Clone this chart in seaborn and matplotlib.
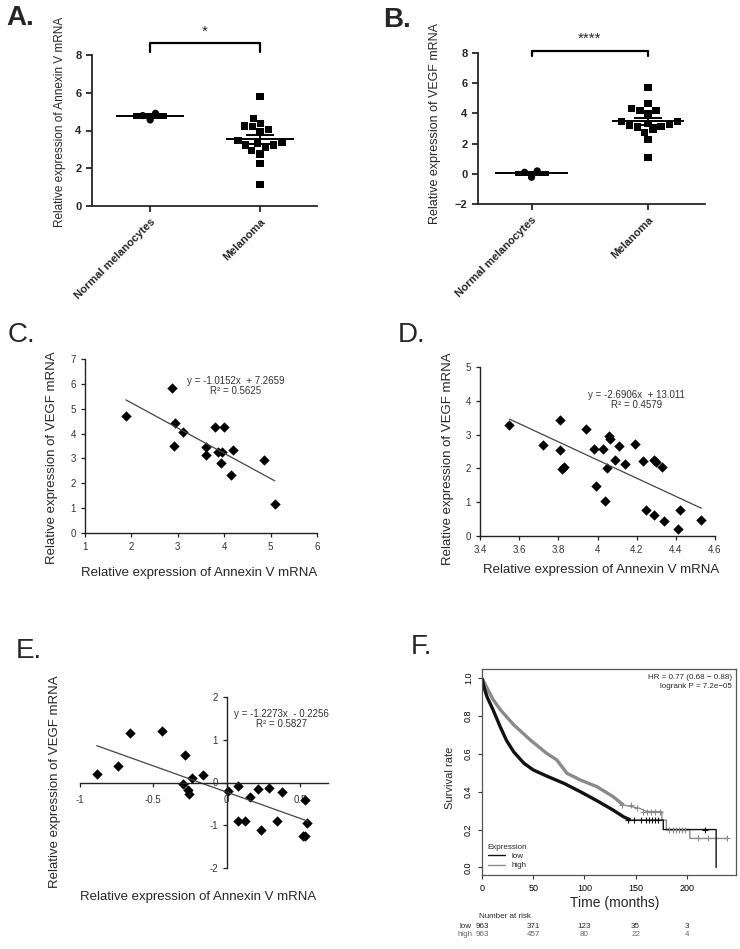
import numpy as np
import pandas as pd
import matplotlib
matplotlib.use("Agg")
import matplotlib.pyplot as plt
import matplotlib.transforms as mtrans
from matplotlib.lines import Line2D
import seaborn as sns

# ---- data ----
groups = ["Normal melanocytes", "Melanoma"]
annexin_normal = [4.91, 4.56, 4.79]
annexin_melanoma = [5.80, 4.65, 4.38, 4.20, 4.06, 3.94, 4.24, 3.37, 3.23, 3.11,
                    3.32, 3.45, 3.23, 2.76, 2.92, 2.26, 1.13]
vegf_normal = [0.19, -0.23, 0.10]
vegf_melanoma = [5.74, 4.64, 4.35, 4.19, 4.19, 3.97, 3.44, 3.24, 3.13, 3.46,
                 3.10, 3.22, 3.35, 2.76, 2.91, 2.25, 1.10]

c_annexin = [1.88, 2.87, 2.94, 2.92, 3.11, 3.60, 3.61, 3.81, 3.86, 3.99,
             3.96, 3.94, 4.14, 4.18, 4.85, 5.09]
c_vegf = [4.71, 5.82, 4.44, 3.51, 4.08, 3.12, 3.44, 4.28, 3.27, 4.28,
          3.27, 2.81, 2.32, 3.35, 2.95, 1.16]
c_fit = (-1.0152, 7.2659)

d_annexin = [3.55, 3.72, 3.81, 3.81, 3.82, 3.83, 3.94, 3.98, 3.99, 4.03,
             4.04, 4.05, 4.06, 4.065, 4.09, 4.11, 4.14, 4.19, 4.23, 4.25,
             4.29, 4.29, 4.30, 4.33, 4.34, 4.41, 4.42, 4.53]
d_vegf = [3.27, 2.68, 3.42, 2.55, 1.99, 2.04, 3.18, 2.57, 1.47, 2.57,
          1.05, 2.00, 2.95, 2.88, 2.24, 2.65, 2.12, 2.73, 2.23, 0.76,
          0.63, 2.26, 2.19, 2.04, 0.44, 0.22, 0.78, 0.47]
d_fit = (-2.6906, 13.011)

e_annexin = [-0.886, -0.74, -0.66, -0.44, -0.284, -0.30, -0.266, -0.255, -0.24, -0.164,
             0.007, 0.08, 0.075, 0.125, 0.16, 0.21, 0.234, 0.29, 0.345, 0.375,
             0.53, 0.52, 0.534, 0.55]
e_vegf = [0.19, 0.39, 1.16, 1.20, 0.64, -0.04, -0.18, -0.27, 0.11, 0.17,
          -0.19, -0.09, -0.90, -0.90, -0.34, -0.16, -1.11, -0.12, -0.90, -0.23,
          -0.41, -1.25, -1.25, -0.94]
e_fit = (-1.2273, -0.2256)

km_low_t = [0, 2, 5, 11, 18, 24, 31, 41, 50, 63, 80, 96, 112, 128, 138, 145, 177, 177, 228.6, 228.6]
km_low_s = [1.0, 0.95, 0.90, 0.83, 0.74, 0.67, 0.61, 0.55, 0.515, 0.483, 0.444, 0.40, 0.353,
            0.303, 0.268, 0.25, 0.25, 0.20, 0.20, 0.0]
km_high_t = [0, 5, 11, 18, 31, 47, 63, 73, 83, 96, 112, 128, 138, 154, 161, 175.6, 175.6, 180, 180,
             203, 203, 239]
km_high_s = [1.0, 0.947, 0.885, 0.832, 0.753, 0.674, 0.603, 0.568, 0.497, 0.462, 0.427, 0.374,
             0.33, 0.312, 0.295, 0.295, 0.25, 0.25, 0.20, 0.20, 0.153, 0.153]
cens_low_t = [143, 148, 155, 160, 163, 166, 169, 172, 218]
cens_low_s = [0.25, 0.25, 0.25, 0.25, 0.25, 0.25, 0.25, 0.25, 0.20]
cens_high_t = [137, 145, 151, 157, 161, 165, 169, 174, 183, 186, 189, 192, 195, 198, 211, 221, 239]
cens_high_s = [0.33, 0.33, 0.312, 0.295, 0.295, 0.295, 0.295, 0.295, 0.20, 0.20, 0.20, 0.20,
               0.20, 0.20, 0.153, 0.153, 0.153]
risk_times = [0, 50, 100, 150, 200]
risk_low = [963, 371, 123, 35, 3]
risk_high = [963, 457, 80, 22, 4]

sns.set_style("ticks")
plt.rcParams["font.family"] = ["Liberation Sans", "DejaVu Sans"]

W, H = 740, 949
fig = plt.figure(figsize=(W / 100, H / 100), dpi=100)


def ax_px(l, t, r, b):
    return fig.add_axes([l / W, 1 - b / H, (r - l) / W, (b - t) / H])


def ftext(x, y, s, **kw):
    fig.text(x / W, 1 - y / H, s, **kw)


def dot_panel(ax, normal, melanoma, ylim, yticks, br_lo, br_hi, star, xlim):
    df = pd.DataFrame({"group": [groups[0]] * len(normal) + [groups[1]] * len(melanoma),
                       "value": normal + melanoma})
    for g, mk in zip(groups, ["o", "s"]):
        # invisible edge widens the swarm spacing like GraphPad's layout
        sns.swarmplot(data=df[df.group == g], x="group", y="value", order=groups,
                      marker=mk, color="black", size=5.2, linewidth=0.8, edgecolor="none",
                      ax=ax, zorder=3)
    for i, vals in enumerate([normal, melanoma]):
        v = np.array(vals)
        m = v.mean()
        se = v.std(ddof=1) / np.sqrt(len(v))
        ax.hlines(m, i - 0.31, i + 0.31, color="black", lw=1.4, zorder=4)
        ax.errorbar(i, m, yerr=se, color="black", lw=1.4, capsize=10 if i else 12,
                    capthick=1.4, zorder=4)
    ax.plot([0, 0, 1, 1], [br_lo, br_hi, br_hi, br_lo], color="black", lw=1.6, clip_on=False)
    ax.text(0.5, br_hi + (ylim[1] - ylim[0]) * 0.03, star, ha="center", va="bottom",
            fontsize=11, clip_on=False)
    ax.set_xlim(*xlim)
    ax.set_ylim(*ylim)
    ax.set_yticks(yticks)
    ax.set_xlabel("")
    ax.set_ylabel("")
    sns.despine(ax=ax)
    for sp in ["left", "bottom"]:
        ax.spines[sp].set_linewidth(1.3)
    ax.tick_params(width=1.3, length=4, labelsize=8)
    for lab in ax.get_yticklabels():
        lab.set_fontweight("bold")
    ax.set_xticks([0, 1])
    ax.set_xticklabels(groups, rotation=45, ha="right", rotation_mode="anchor",
                       fontsize=8, fontweight="bold")


# ---- A ----
ax_a = ax_px(92, 55, 317, 206)
dot_panel(ax_a, annexin_normal, annexin_melanoma, (0, 8), [0, 2, 4, 6, 8], 8.14, 8.62, "*",
          (-0.53, 1.52))
ftext(60, 122, "Relative expression of Annexin V mRNA", rotation=90, ha="center",
      va="center", fontsize=8.5)
ftext(6, 18, "A.", fontsize=20, fontweight="bold", va="center")

# ---- B ----
ax_b = ax_px(478, 53, 705, 204)
dot_panel(ax_b, vegf_normal, vegf_melanoma, (-2, 8), [-2, 0, 2, 4, 6, 8], 7.8, 8.15, "****",
          (-0.46, 1.49))
ftext(435, 124, "Relative expression of VEGF mRNA", rotation=90, ha="center",
      va="center", fontsize=9)
ftext(383, 20, "B.", fontsize=20, fontweight="bold", va="center")


def excel_panel(ax):
    for sp in ["top", "right"]:
        ax.spines[sp].set_visible(False)
    for sp in ["left", "bottom"]:
        ax.spines[sp].set_linewidth(1.0)
        ax.spines[sp].set_color("#222222")
    ax.tick_params(length=3, width=0.9, labelsize=7, colors="#222222", labelcolor="#333333")
    ax.set_xlabel("")
    ax.set_ylabel("")


# ---- C ----
ax_c = ax_px(85, 359, 317, 533)
sns.scatterplot(x=c_annexin, y=c_vegf, marker="D", s=28, color="black", linewidth=0, ax=ax_c)
xr = np.array([min(c_annexin), max(c_annexin)])
ax_c.plot(xr, c_fit[0] * xr + c_fit[1], color="#444444", lw=0.9)
ax_c.set_xlim(1, 6)
ax_c.set_ylim(0, 7)
ax_c.set_xticks(range(1, 7))
ax_c.set_yticks(range(0, 8))
excel_panel(ax_c)
ax_c.text(4.24, 6.13, "y = -1.0152x  + 7.2659", ha="center", va="center", fontsize=7, color="#333333")
ax_c.text(4.24, 5.72, "R\u00b2 = 0.5625", ha="center", va="center", fontsize=7, color="#333333")
ftext(52, 458, "Relative expression of VEGF mRNA", rotation=90, ha="center", va="center", fontsize=9.5)
ftext(199, 573, "Relative expression of Annexin V mRNA", ha="center", va="center", fontsize=9.5)
ftext(8, 335, "C.", fontsize=20, va="center")

# ---- D ----
ax_d = ax_px(480, 367, 715, 536)
sns.scatterplot(x=d_annexin, y=d_vegf, marker="D", s=28, color="black", linewidth=0, ax=ax_d)
xr = np.array([min(d_annexin), max(d_annexin)])
ax_d.plot(xr, d_fit[0] * xr + d_fit[1], color="#444444", lw=0.9)
ax_d.set_xlim(3.4, 4.6)
ax_d.set_ylim(0, 5)
d_ticks = [3.4, 3.6, 3.8, 4.0, 4.2, 4.4, 4.6]
ax_d.set_xticks(d_ticks)
ax_d.set_xticklabels(["3.4", "3.6", "3.8", "4", "4.2", "4.4", "4.6"])
ax_d.set_yticks(range(0, 6))
excel_panel(ax_d)
ax_d.text(4.2, 4.16, "y = -2.6906x  + 13.011", ha="center", va="center", fontsize=7, color="#333333")
ax_d.text(4.2, 3.88, "R\u00b2 = 0.4579", ha="center", va="center", fontsize=7, color="#333333")
ftext(448, 459, "Relative expression of VEGF mRNA", rotation=90, ha="center", va="center", fontsize=9.5)
ftext(601, 570, "Relative expression of Annexin V mRNA", ha="center", va="center", fontsize=9.5)
ftext(398, 335, "D.", fontsize=20, va="center")

# ---- E ----
ax_e = ax_px(80, 697, 328, 868)
sns.scatterplot(x=e_annexin, y=e_vegf, marker="D", s=28, color="black", linewidth=0, ax=ax_e)
xr = np.array([min(e_annexin), max(e_annexin)])
ax_e.plot(xr, e_fit[0] * xr + e_fit[1], color="#444444", lw=0.9)
ax_e.set_xlim(-1, 0.69)
ax_e.set_ylim(-2, 2)
excel_panel(ax_e)
ax_e.spines["left"].set_position(("data", 0))
ax_e.spines["bottom"].set_position(("data", 0))
ax_e.set_xticks([-1, -0.5, 0, 0.5])
ax_e.set_xticklabels(["-1", "-0.5", "0", "0.5"])
ax_e.set_yticks([-2, -1, 0, 1, 2])
ax_e.set_yticklabels(["-2", "-1", "0", "1", "2"])
ax_e.tick_params(axis="x", pad=6)
ax_e.text(0.375, 1.61, "y = -1.2273x  - 0.2256", ha="center", va="center", fontsize=7, color="#333333")
ax_e.text(0.375, 1.38, "R\u00b2 = 0.5827", ha="center", va="center", fontsize=7, color="#333333")
ftext(55, 782, "Relative expression of VEGF mRNA", rotation=90, ha="center", va="center", fontsize=9.5)
ftext(198, 897, "Relative expression of Annexin V mRNA", ha="center", va="center", fontsize=9.5)
ftext(16, 651, "E.", fontsize=20, va="center")

# ---- F ----
ax_f = ax_px(482, 669, 736, 875)
low_c, high_c = "#111111", "#8a8a8a"
sns.lineplot(x=km_high_t, y=km_high_s, sort=False, estimator=None, errorbar=None,
             color=high_c, lw=1.0, ax=ax_f)
sns.lineplot(x=km_low_t, y=km_low_s, sort=False, estimator=None, errorbar=None,
             color=low_c, lw=1.0, ax=ax_f)
nh = km_high_t.index(138) + 1
nl = km_low_t.index(145) + 1
ax_f.plot(km_high_t[:nh], km_high_s[:nh], color=high_c, lw=2.4, solid_capstyle="butt")
ax_f.plot(km_low_t[:nl], km_low_s[:nl], color=low_c, lw=2.4, solid_capstyle="butt")
ax_f.plot(cens_high_t, cens_high_s, ls="none", marker="+", ms=4.5, mew=0.8, color=high_c)
ax_f.plot(cens_low_t, cens_low_s, ls="none", marker="+", ms=4.5, mew=0.8, color=low_c)
ax_f.set_xlim(0, 248)
ax_f.set_ylim(-0.04, 1.048)
ax_f.set_xticks(risk_times)
ax_f.set_yticks([0, 0.2, 0.4, 0.6, 0.8, 1.0])
ax_f.set_yticklabels(["0.0", "0.2", "0.4", "0.6", "0.8", "1.0"], rotation=90, va="center")
ax_f.tick_params(length=3, width=0.8, labelsize=6.5, colors="#333333", labelcolor="black")
for sp in ax_f.spines.values():
    sp.set_linewidth(0.9)
    sp.set_color("#555555")
ax_f.set_xlabel("")
ax_f.set_ylabel("")
ax_f.text(0.985, 0.975, "HR = 0.77 (0.68 \u2212 0.88)\nlogrank P = 7.2e\u221205", transform=ax_f.transAxes,
          ha="right", va="top", fontsize=5.8, linespacing=1.3)
handles = [Line2D([], [], color=low_c, lw=1), Line2D([], [], color=high_c, lw=1)]
leg = ax_f.legend(handles, ["low", "high"], title="Expression", loc="lower left",
                  frameon=False, fontsize=5.8, title_fontsize=5.8, handlelength=2.2,
                  borderaxespad=0.3, labelspacing=0.2)
leg._legend_box.align = "left"
ftext(450, 778, "Survival rate", rotation=90, ha="center", va="center", fontsize=8)
ftext(615, 903, "Time (months)", ha="center", va="center", fontsize=10)
ftext(411, 647, "F.", fontsize=20, va="center")

tr = mtrans.blended_transform_factory(ax_f.transData, fig.transFigure)
fig.text(505 / W, 1 - 917 / H, "Number at risk", fontsize=5.8, ha="center", va="center")
fig.text(472 / W, 1 - 926 / H, "low", fontsize=5.8, ha="right", va="center")
fig.text(472 / W, 1 - 935 / H, "high", fontsize=5.8, ha="right", va="center", color="#666666")
for t, lo, hi in zip(risk_times, risk_low, risk_high):
    ax_f.text(t, 1 - 926 / H, str(lo), transform=tr, fontsize=5.8, ha="center", va="center")
    ax_f.text(t, 1 - 935 / H, str(hi), transform=tr, fontsize=5.8, ha="center", va="center",
              color="#666666")

fig.savefig("out.png", dpi=100, facecolor="white")
